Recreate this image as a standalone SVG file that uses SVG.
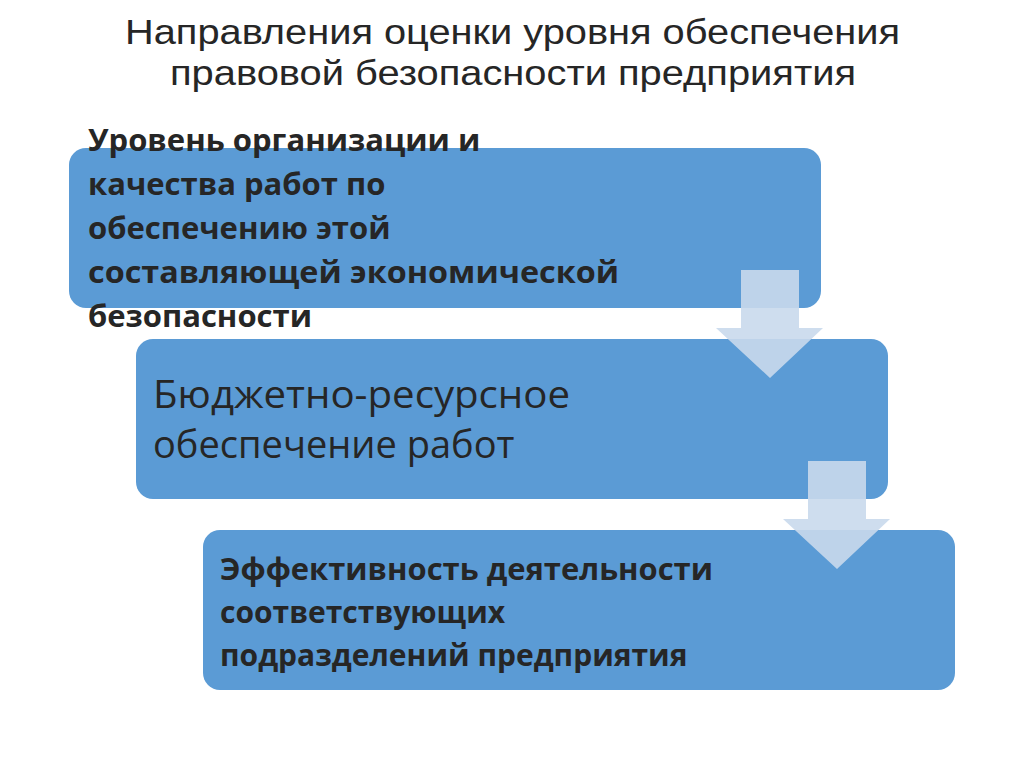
<svg xmlns="http://www.w3.org/2000/svg" width="1024" height="767" viewBox="0 0 1024 767">
<style>
.box{fill:#5b9bd5;}
.arr{fill:#c9d9ec;fill-opacity:0.9;}
.t{font-family:"Open Sans","Noto Sans",sans-serif;fill:#262626;}
.h{font-family:"Liberation Sans",Arial,sans-serif;font-size:35px;}
.b{font-weight:bold;font-size:31px;}
.b2{font-weight:bold;font-size:30px;}
</style>
<rect width="1024" height="767" fill="#fff"/>
<g id="title"><text class="t h" x="125" y="44" textLength="775" lengthAdjust="spacingAndGlyphs">Направления оценки уровня обеспечения</text>
<text class="t h" x="170" y="85" textLength="686" lengthAdjust="spacingAndGlyphs">правовой безопасности предприятия</text></g>
<g id="n1"><rect class="box" x="69" y="148" width="752" height="160" rx="17"/>
<text class="t b" x="88" y="151">Уровень организации и</text>
<text class="t b" x="88" y="195">качества работ по</text>
<text class="t b" x="88" y="239">обеспечению этой</text>
<text class="t b" x="88" y="283" textLength="531" lengthAdjust="spacingAndGlyphs">составляющей экономической</text>
<text class="t b" x="88" y="327">безопасности</text></g>
<g id="n2"><rect class="box" x="136" y="339" width="752" height="160" rx="17"/>
<text class="t" x="153" y="408" font-size="38" textLength="417" lengthAdjust="spacingAndGlyphs">Бюджетно-ресурсное</text>
<text class="t" x="153" y="458" font-size="38">обеспечение работ</text></g>
<g id="n3"><rect class="box" x="203" y="530" width="752" height="160" rx="17"/>
<text class="t b2" x="220" y="580" textLength="493" lengthAdjust="spacingAndGlyphs">Эффективность деятельности</text>
<text class="t b2" x="220" y="623">соответствующих</text>
<text class="t b2" x="220" y="666">подразделений предприятия</text></g>
<g id="connectors">
<polygon class="arr" points="741,270 799,270 799,328 823,328 770,378 716,328 741,328"/>
<polygon class="arr" points="808,461 866,461 866,519 890,519 837,569 783,519 808,519"/>
</g>
</svg>
